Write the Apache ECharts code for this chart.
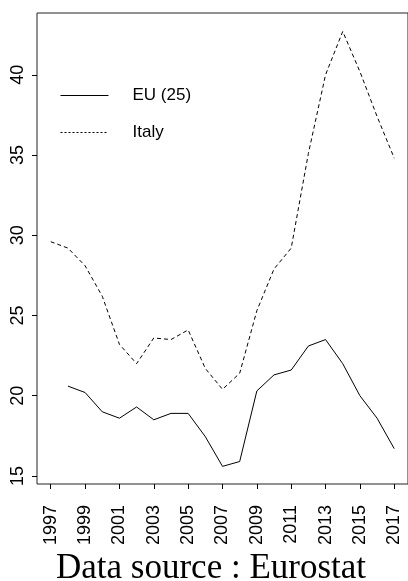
<!DOCTYPE html>
<html>
<head>
<meta charset="utf-8">
<script src="https://cdn.jsdelivr.net/npm/echarts@6/dist/echarts.min.js"></script>
<style>
html,body{margin:0;padding:0;background:#fff;}
#chart{width:408px;height:581px;}
</style>
</head>
<body>
<div id="chart"></div>
<script>
var years = [1997,1998,1999,2000,2001,2002,2003,2004,2005,2006,2007,2008,2009,2010,2011,2012,2013,2014,2015,2016,2017];
var euValues = [null,20.6,20.2,19.0,18.6,19.3,18.5,18.9,18.9,17.45,15.6,15.9,20.3,21.3,21.6,23.1,23.5,22.0,20.0,18.6,16.7];
var italyValues = [29.6,29.2,28.1,26.2,23.2,22.0,23.6,23.5,24.1,21.7,20.4,21.4,25.3,27.9,29.2,35.1,40.0,42.7,40.2,37.4,34.8];
var xTickLabels = [1997,1999,2001,2003,2005,2007,2009,2011,2013,2015,2017];
var yTickLabels = [15,20,25,30,35,40];
var seriesNames = ['EU (25)', 'Italy'];
var sourceText = 'Data source : Eurostat';

function pairs(vals){
  var out = [];
  for (var i = 0; i < years.length; i++) {
    if (vals[i] !== null) out.push([years[i], vals[i]]);
  }
  return out;
}

var chart = echarts.init(document.getElementById('chart'), null, {renderer:'canvas'});
var sans = 'Liberation Sans, Arial, Helvetica, sans-serif';
chart.setOption({
  animation: false,
  backgroundColor: '#ffffff',
  grid: {
    left: 37, top: 13, width: 373, height: 471,
    show: true, borderColor: '#222', borderWidth: 1, backgroundColor: 'transparent',
    containLabel: false
  },
  legend: {
    orient: 'vertical',
    left: 55, top: 82,
    itemWidth: 48, itemHeight: 16, itemGap: 20,
    itemStyle: {opacity: 0, color: 'transparent', borderWidth: 0},
    data: [
      {name: seriesNames[0], lineStyle: {type: 'solid', width: 1, color: '#000'}},
      {name: seriesNames[1], lineStyle: {type: [2,2], width: 1, color: '#000'}}
    ],
    textStyle: {fontFamily: sans, fontSize: 17, color: '#000', padding: [0,0,0,19]}
  },
  xAxis: {
    type: 'value', min: 1996.2, max: 2017.8,
    splitLine: {show: false},
    axisLine: {show: false},
    axisTick: {show: true, length: 5, inside: false, customValues: xTickLabels, lineStyle: {color: '#000', width: 1}},
    axisLabel: {show: true, customValues: xTickLabels, rotate: 90, margin: 21, fontFamily: sans, fontSize: 18, color: '#000',
      formatter: function(v){ return String(v); }}
  },
  yAxis: {
    type: 'value', min: 14.5, max: 43.85,
    splitLine: {show: false},
    axisLine: {show: false},
    axisTick: {show: true, length: 5, inside: false, customValues: yTickLabels, lineStyle: {color: '#000', width: 1}},
    axisLabel: {show: true, customValues: yTickLabels, rotate: 90, margin: 10, fontFamily: sans, fontSize: 18, color: '#000',
      formatter: function(v){ return String(v); }}
  },
  graphic: [{
    type: 'text',
    left: 56, top: 551,
    style: {text: sourceText, font: '35px "Liberation Serif", "Times New Roman", serif', fill: '#000'}
  }],
  series: [
    {
      name: seriesNames[0], type: 'line', data: pairs(euValues),
      symbol: 'none', showSymbol: false, connectNulls: false,
      lineStyle: {color: '#000', width: 1, type: 'solid'},
      itemStyle: {color: '#000'}
    },
    {
      name: seriesNames[1], type: 'line', data: pairs(italyValues),
      symbol: 'none', showSymbol: false,
      lineStyle: {color: '#000', width: 1, type: [4,3]},
      itemStyle: {color: '#000'}
    }
  ]
});
</script>
</body>
</html>
